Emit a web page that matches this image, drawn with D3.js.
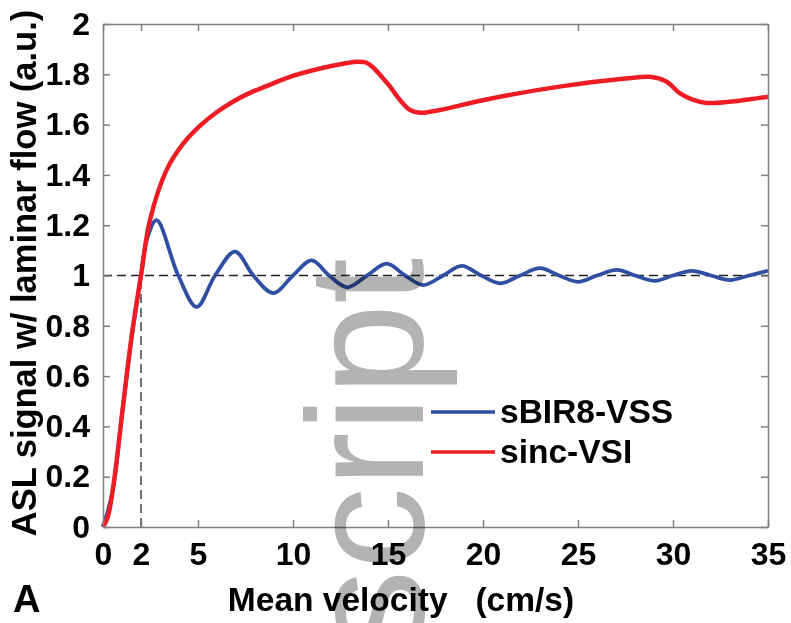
<!DOCTYPE html>
<html>
<head>
<meta charset="utf-8">
<script src="https://cdn.jsdelivr.net/npm/d3@7"></script>
<style>
  body { margin: 0; background: #fff; }
  svg { font-family: "Liberation Sans", Arial, sans-serif; }
  .axis path, .axis line { stroke: #7f7f7f; stroke-width: 1.5; }
  .axis text { font-size: 32px; font-weight: bold; fill: #000; }
</style>
</head>
<body>
<div id="chart"></div>
<script>
// mean velocity (cm/s) and signal ratio
var blueX = [0, 0.5, 1.0, 1.5, 2.0, 2.3, 2.82, 3.96, 4.93, 5.9, 6.95, 7.91, 8.96, 10.0, 10.98, 11.9, 12.85,
             13.9, 14.93, 15.9, 16.86, 17.9, 18.88, 19.9, 20.9, 21.95, 23.0, 24.0, 25.0, 26.0, 27.04,
             28.0, 29.05, 30.0, 30.98, 32.0, 33.0, 34.0, 35.0];
var blueY = [0, 0.14, 0.45, 0.75, 1.0, 1.14, 1.22, 1.0, 0.875, 1.0, 1.095, 1.0, 0.93, 1.0, 1.06, 1.0, 0.953,
             1.0, 1.047, 1.0, 0.962, 1.0, 1.038, 1.0, 0.969, 1.0, 1.029, 1.0, 0.975, 1.0, 1.022,
             1.0, 0.979, 1.0, 1.018, 1.0, 0.982, 1.0, 1.019];

var redX = [0, 0.25, 0.54, 1.07, 1.51, 2.0, 2.47, 3.35, 4.23, 5.1, 6.0, 6.86, 7.7, 8.6, 9.84, 11.59, 12.7, 13.4,
            13.9, 14.23, 14.67, 15.11, 15.46, 15.81, 16.16, 16.68, 17.21, 17.74, 20.37, 24.2,
            27.5, 28.8, 29.65, 30.37, 31.07, 31.77, 33.5, 35.0];
var redY = [0, 0.04, 0.16, 0.49, 0.76, 1.0, 1.22, 1.42, 1.525, 1.595, 1.65, 1.692, 1.725, 1.753, 1.79, 1.826, 1.843, 1.85,
            1.845, 1.826, 1.79, 1.751, 1.714, 1.682, 1.658, 1.647, 1.651, 1.658, 1.703, 1.753,
            1.783, 1.79, 1.771, 1.724, 1.698, 1.686, 1.695, 1.711];

var seriesNames = ["sBIR8-VSS", "sinc-VSI"];
var seriesColors = ["#2f4fa2", "#ee1d25"];

var xTicks = [0, 2, 5, 10, 15, 20, 25, 30, 35];
var yTicks = [0, 0.2, 0.4, 0.6, 0.8, 1, 1.2, 1.4, 1.6, 1.8, 2];

var W = 791, H = 623;
var margin = {top: 24, right: 23, bottom: 96, left: 103};
var width = W - margin.left - margin.right,
    height = H - margin.top - margin.bottom;

var svg = d3.select("#chart").append("svg")
    .attr("width", W)
    .attr("height", H);

var g = svg.append("g")
    .attr("transform", "translate(" + margin.left + "," + margin.top + ")");

var x = d3.scaleLinear().domain([0, 35]).range([0, width]);
var y = d3.scaleLinear().domain([0, 2]).range([height, 0]);

// reference dashed lines at ratio 1 and v = 2
g.append("line")
    .attr("x1", x(0)).attr("x2", x(35))
    .attr("y1", y(1)).attr("y2", y(1))
    .attr("stroke", "#222").attr("stroke-width", 1.3)
    .attr("stroke-dasharray", "9,5");
g.append("line")
    .attr("x1", x(2)).attr("x2", x(2))
    .attr("y1", y(0)).attr("y2", y(1))
    .attr("stroke", "#444").attr("stroke-width", 1.5)
    .attr("stroke-dasharray", "9,5");

var line = d3.line()
    .x(function (d) { return x(d[0]); })
    .y(function (d) { return y(d[1]); })
    .curve(d3.curveCatmullRom.alpha(0.5));

g.append("path")
    .datum(d3.zip(blueX, blueY))
    .attr("fill", "none")
    .attr("stroke", seriesColors[0])
    .attr("stroke-width", 3.8)
    .attr("d", line);

g.append("path")
    .datum(d3.zip(redX, redY))
    .attr("fill", "none")
    .attr("stroke", seriesColors[1])
    .attr("stroke-width", 4.5)
    .attr("d", line);

var fmt = d3.format(".1~f");

// axes, ticks pointing inward
g.append("g")
    .attr("class", "axis")
    .attr("transform", "translate(0," + height + ")")
    .call(d3.axisBottom(x).tickValues(xTicks).tickSizeInner(-7).tickSizeOuter(0).tickPadding(15));

g.append("g")
    .attr("class", "axis")
    .call(d3.axisLeft(y).tickValues(yTicks).tickFormat(fmt).tickSizeInner(-7).tickSizeOuter(0).tickPadding(13));

g.append("g")
    .attr("class", "axis")
    .call(d3.axisTop(x).tickValues(xTicks).tickFormat("").tickSizeInner(-7).tickSizeOuter(0));

g.append("g")
    .attr("class", "axis")
    .attr("transform", "translate(" + width + ",0)")
    .call(d3.axisRight(y).tickValues(yTicks).tickFormat("").tickSizeInner(-7).tickSizeOuter(0));

// axis titles
svg.append("text")
    .attr("x", 401).attr("y", 611)
    .attr("text-anchor", "middle")
    .attr("font-size", 33.5).attr("font-weight", "bold")
    .attr("xml:space", "preserve")
    .text("Mean velocity   (cm/s)");

svg.append("text")
    .attr("transform", "translate(36,273) rotate(-90)")
    .attr("text-anchor", "middle")
    .attr("font-size", 34.5).attr("font-weight", "bold")
    .text("ASL signal w/ laminar flow (a.u.)");

svg.append("text")
    .attr("x", 13).attr("y", 612)
    .attr("font-size", 38).attr("font-weight", "bold")
    .text("A");

// legend
var legend = svg.append("g")
    .selectAll("g")
    .data(seriesNames)
    .enter().append("g")
    .attr("transform", function (d, i) { return "translate(431," + (412 + i * 40) + ")"; });

legend.append("line")
    .attr("x1", 0).attr("x2", 64)
    .attr("stroke", function (d, i) { return seriesColors[i]; })
    .attr("stroke-width", 3.5);

legend.append("text")
    .attr("x", 69).attr("y", 11)
    .attr("font-size", 33.5).attr("font-weight", "bold")
    .text(function (d) { return d; });

// manuscript watermark
svg.append("text")
    .attr("transform", "translate(423,258) rotate(-90)")
    .attr("text-anchor", "end")
    .attr("font-size", 165)
    .attr("fill", "#b3b3b3")
    .style("mix-blend-mode", "multiply")
    .text("script");
</script>
</body>
</html>
